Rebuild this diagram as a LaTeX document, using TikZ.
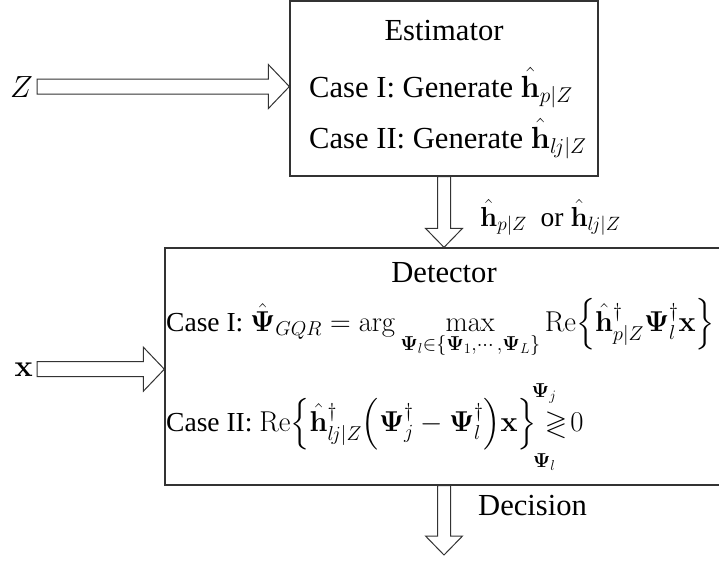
\RequirePackage{fix-cm}
\documentclass[tikz,border=0pt]{standalone}
\usepackage{amsmath,amssymb}
\usepackage[no-math]{fontspec}
\setmainfont{Liberation Serif}
\usetikzlibrary{calc,positioning}

\tikzset{
  blk/.style={draw=black!80, line width=1.3pt, inner sep=0pt},
  lbl/.style={inner sep=0pt, font=\fontsize{30.6}{36}\selectfont},
  eqn/.style={inner sep=0pt, font=\fontsize{27.5}{33}\selectfont},
  fat/.style={draw=black!80, line width=1pt, fill=white},
}

% horizontal block arrow, from #1 to the tip #2
\newcommand{\harrow}[2]{%
  \draw[fat] ($(#1)+(0,-7.5)$) -- ($(#2)+(-21,-7.5)$) -- ($(#2)+(-21,-22)$) -- (#2)
    -- ($(#2)+(-21,22)$) -- ($(#2)+(-21,7.5)$) -- ($(#1)+(0,7.5)$) -- cycle;}
% vertical block arrow (pointing down), from #1 to the tip #2
\newcommand{\varrow}[2]{%
  \draw[fat] ($(#1)+(-6.5,0)$) -- ($(#2)+(-6.5,-19)$) -- ($(#2)+(-18.5,-19)$) -- (#2)
    -- ($(#2)+(18.5,-19)$) -- ($(#2)+(6.5,-19)$) -- ($(#1)+(6.5,0)$) -- cycle;}
% math a little larger than the text around it
\newcommand{\bigmath}[1]{{\fontsize{28.7}{33}\selectfont$#1$}}
% script set above/below the decision sign
\newcommand{\signlim}[2]{\makebox[0pt]{\raisebox{#1}{$\scriptstyle#2$}\hspace{24pt}}}

\begin{document}
\begin{tikzpicture}[x=1pt, y=-1pt]
    \useasboundingbox (0,0) rectangle (719,562);
    \clip (0,0) rectangle (719,562);

    % Estimator
    \node[blk, minimum width=308, minimum height=175] (est) at (444,88.5) {};
    \node[lbl, anchor=base] (esttitle) at (444,40) {Estimator};
    \node[lbl, anchor=base west] (estone) at (309,97) {Case I: Generate $\hat{\mathbf{h}}_{p|Z}$};
    \node[lbl, anchor=base west] (esttwo) at (309,148) {Case II: Generate $\hat{\mathbf{h}}_{l\mkern-2mu j|Z}$};

    % Detector
    \node[blk, minimum width=558, minimum height=237] (det) at (444,366.5) {};
    \node[lbl, anchor=base] (dettitle) at (444,282) {Detector};
    \node[eqn, anchor=base west] (detone) at (166,331) {Case I: \bigmath{\hat{\mathbf{\Psi}}_{GQR}=\arg\max\limits_{\mathbf{\Psi}_l\in\left\{\mathbf{\Psi}_1,\cdots,\mathbf{\Psi}_L\right\}}\mathrm{Re}\!\left\{\hat{\mathbf{h}}^{\dagger}_{p|Z}\mathbf{\Psi}_l^{\dagger}\mathbf{x}\right\}}};
    \node[eqn, anchor=base west] (dettwo) at (166,431) {Case II: \bigmath{\mathrm{Re}\!\left\{\hat{\mathbf{h}}^{\dagger}_{l\mkern-2mu j|Z}\!\left(\mathbf{\Psi}_j^{\dagger}-\mathbf{\Psi}_l^{\dagger}\right)\!\mathbf{x}\right\}\mkern2mu{\underset{\signlim{-14pt}{\mathbf{\Psi}_l}}{\overset{\signlim{8pt}{\mathbf{\Psi}_j}}{\gtrless}}}\mkern2mu 0}};

    % Inputs
    \node[lbl, anchor=base east, inner xsep=4pt] (zin) at (37,97) {$Z$};
    \node[lbl, anchor=base east, inner xsep=4pt] (xin) at (37,376) {$\mathbf{x}$};
    \coordinate (zto) at (zin.east -| est.west);
    \coordinate (xto) at (xin.east -| det.west);
    \harrow{zin.east}{zto}
    \harrow{xin.east}{xto}

    % Estimate to detector, decision out
    \varrow{est.south}{det.north}
    \node[eqn, anchor=base west] (hlbl) at (480,226) {$\hat{\mathbf{h}}_{p|Z}$ ~or $\hat{\mathbf{h}}_{l\mkern-2mu j|Z}$};
    \coordinate (out) at (444,555);
    \varrow{det.south}{out}
    \node[lbl, anchor=base west] (dec) at (478,515) {Decision};
\end{tikzpicture}
\end{document}
